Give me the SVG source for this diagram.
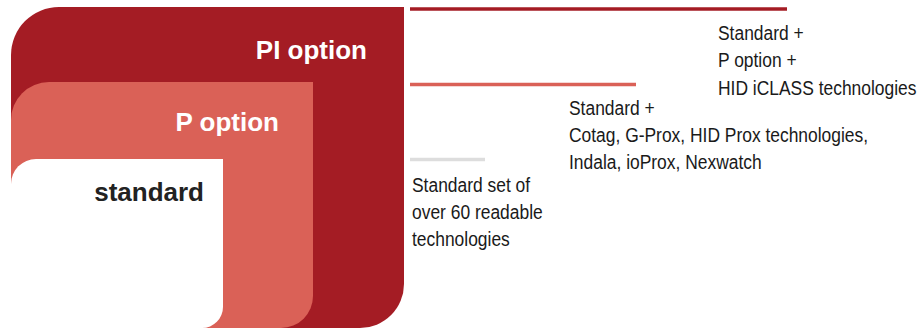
<svg xmlns="http://www.w3.org/2000/svg" width="920" height="329" viewBox="0 0 920 329">
  <style>
    .head { font-family: "Liberation Sans", Arial, sans-serif; font-weight: bold; font-size: 26px; text-anchor: end; }
    .desc { font-family: "Liberation Sans", Arial, sans-serif; font-size: 21px; fill: #1a1a1a; }
    .bar { stroke-width: 3.5; fill: none; }
  </style>
  <rect width="920" height="329" fill="#ffffff"/>
  <g id="pi-option">
    <path d="M11,55 A48,48 0 0 1 59,7 L404,7 L404,284 A44,44 0 0 1 360,328 L11,328 Z" fill="#A41C24"/>
    <text class="head" x="367" y="59" fill="#ffffff">PI option</text>
  </g>
  <g id="p-option">
    <path d="M11,120 A38,38 0 0 1 49,82 L313,82 L313,296 A32,32 0 0 1 281,328 L11,328 Z" fill="#DA6157"/>
    <text class="head" x="279" y="131" fill="#ffffff">P option</text>
  </g>
  <g id="standard">
    <path d="M11,184 A25,25 0 0 1 36,159 L223,159 L223,307 A21,21 0 0 1 202,328 L11,328 Z" fill="#ffffff"/>
    <text class="head" x="204" y="201" fill="#222222">standard</text>
  </g>
  <g id="connectors">
    <line class="bar" x1="410" y1="9" x2="787" y2="9" stroke="#A41C24"/>
    <line class="bar" x1="410" y1="84.5" x2="636" y2="84.5" stroke="#DA6157"/>
    <line class="bar" x1="410" y1="159.5" x2="485" y2="159.5" stroke="#DDDDDD"/>
  </g>
  <g id="pi-desc" transform="translate(718,0) scale(0.83,1)">
    <text class="desc" x="0" y="40">Standard +</text>
    <text class="desc" x="0" y="67.5">P option +</text>
    <text class="desc" x="0" y="95">HID iCLASS technologies</text>
  </g>
  <g id="p-desc" transform="translate(569,0) scale(0.83,1)">
    <text class="desc" x="0" y="115">Standard +</text>
    <text class="desc" x="0" y="142">Cotag, G-Prox, HID Prox technologies,</text>
    <text class="desc" x="0" y="169">Indala, ioProx, Nexwatch</text>
  </g>
  <g id="standard-desc" transform="translate(412,0) scale(0.83,1)">
    <text class="desc" x="0" y="192">Standard set of</text>
    <text class="desc" x="0" y="219">over 60 readable</text>
    <text class="desc" x="0" y="246">technologies</text>
  </g>
</svg>
